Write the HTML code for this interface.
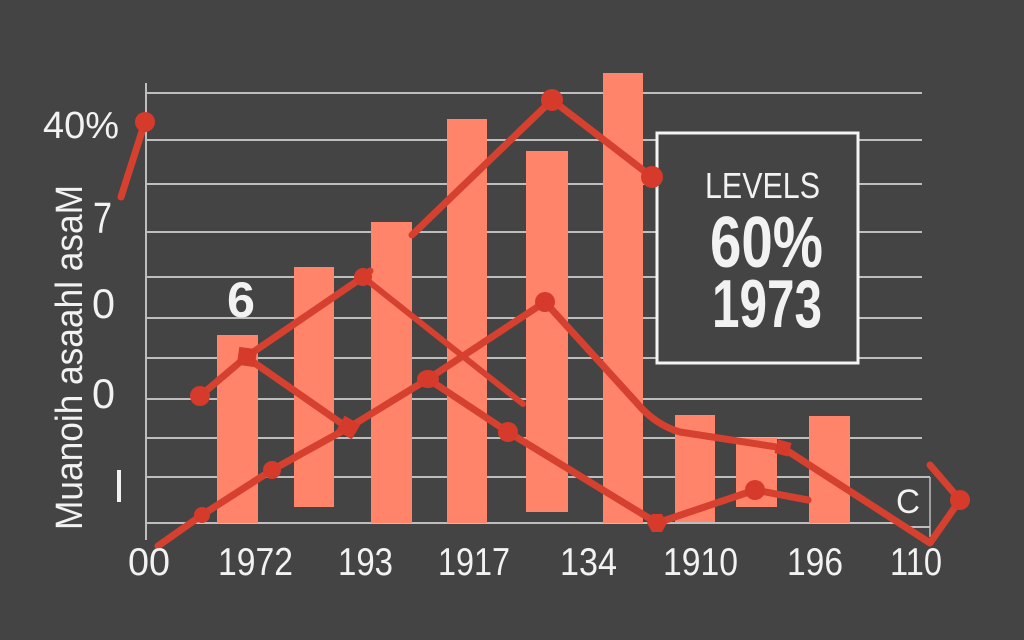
<!DOCTYPE html>
<html>
<head>
<meta charset="utf-8">
<style>
  html,body{margin:0;padding:0;background:#444444;}
  svg{display:block;}
  text{font-family:"Liberation Sans","DejaVu Sans",sans-serif;fill:#F2F2F2;}
</style>
</head>
<body>
<svg width="1024" height="640" viewBox="0 0 1024 640" xmlns="http://www.w3.org/2000/svg">
  <rect width="1024" height="640" fill="#444444"/>

  <!-- gridlines -->
  <g stroke="#BEBEBE" stroke-width="2">
    <line x1="146" y1="93" x2="922" y2="93"/>
    <line x1="146" y1="140" x2="922" y2="140"/>
    <line x1="146" y1="184" x2="922" y2="184"/>
    <line x1="146" y1="232" x2="922" y2="232"/>
    <line x1="146" y1="277" x2="922" y2="277"/>
    <line x1="146" y1="318" x2="922" y2="318"/>
    <line x1="146" y1="358" x2="922" y2="358"/>
    <line x1="146" y1="399" x2="922" y2="399"/>
    <line x1="146" y1="438" x2="922" y2="438"/>
    <line x1="146" y1="477" x2="930" y2="477"/>
    <line x1="146" y1="523" x2="902" y2="523"/>
    <line x1="902" y1="527" x2="930" y2="527"/>
    <line x1="930" y1="477" x2="930" y2="537" stroke-width="1.5"/>
    <line x1="146" y1="83" x2="146" y2="540"/>
  </g>

  <!-- callout box -->
  <rect x="657" y="133" width="201" height="230" fill="#444444" stroke="#F4F4F4" stroke-width="3"/>

  <!-- bars -->
  <g fill="#FF8469">
    <rect x="217" y="335" width="41" height="188"/>
    <rect x="294" y="267" width="40" height="240"/>
    <rect x="371" y="222" width="41" height="301"/>
    <rect x="447" y="119" width="40" height="404"/>
    <rect x="526" y="151" width="42" height="361"/>
    <rect x="603" y="73" width="40" height="450"/>
    <rect x="675" y="415" width="40" height="107"/>
    <rect x="736" y="438" width="41" height="69"/>
    <rect x="809" y="416" width="41" height="107"/>
  </g>

  <!-- lines -->
  <g fill="none" stroke="#D6402F" stroke-width="7" stroke-linejoin="round" stroke-linecap="round">
    <polyline points="121,197 145,122"/>
    <polyline points="200,396 246,357 363,277 370,271"/>
    <polyline points="412,235 552,100 652,177"/>
    <polyline points="246,357 348,428"/>
    <polyline points="158,546 202,515 272,470 348,428 428,379 508,432 657,523 755,490 808,500"/>
    <polyline points="363,277 523,404" stroke-width="6"/>
    <path d="M428,379 L545,302 L636,402 Q655,425 680,432 L783,448 L930,543 L960,500 L930,465"/>
  </g>

  <!-- markers -->
  <g fill="#D63A2A">
    <circle cx="145" cy="122" r="10"/>
    <circle cx="200" cy="396" r="10"/>
    <rect x="238" y="348" width="18" height="18" transform="rotate(8 247 357)"/>
    <circle cx="363" cy="277" r="9"/>
    <circle cx="552" cy="100" r="11"/>
    <circle cx="652" cy="177" r="11"/>
    <circle cx="202" cy="515" r="8"/>
    <circle cx="272" cy="470" r="9"/>
    <rect x="339" y="419" width="18" height="17" transform="rotate(30 348 428)"/>
    <ellipse cx="428" cy="379" rx="11" ry="9"/>
    <circle cx="508" cy="432" r="10"/>
    <circle cx="545" cy="302" r="10"/>
    <polygon points="647,523 652,514 662,514 667,523 662,532 652,532"/>
    <circle cx="755" cy="490" r="10"/>
    <rect x="776" y="441" width="14" height="14" transform="rotate(15 783 448)"/>
    <circle cx="960" cy="500" r="10"/>
  </g>

  <!-- y-axis labels -->
  <text x="43" y="138" font-size="38" textLength="76" lengthAdjust="spacingAndGlyphs">40%</text>
  <text x="93" y="233" font-size="44" textLength="19" lengthAdjust="spacingAndGlyphs">7</text>
  <text x="92" y="318" font-size="42" textLength="23" lengthAdjust="spacingAndGlyphs">0</text>
  <text x="92" y="408" font-size="42" textLength="23" lengthAdjust="spacingAndGlyphs">0</text>
  <rect x="117" y="470" width="4" height="32" fill="#F2F2F2"/>

  <!-- rotated axis title -->
  <text x="0" y="0" font-size="38" textLength="345" lengthAdjust="spacingAndGlyphs" transform="translate(82 530) rotate(-90)">Muanoih asaahl asaM</text>

  <!-- bar annotation -->
  <text x="227" y="317" font-size="50" font-weight="bold" textLength="28" lengthAdjust="spacingAndGlyphs">6</text>

  <!-- x-axis labels -->
  <g font-size="39">
    <text x="128" y="575" textLength="42" lengthAdjust="spacingAndGlyphs">00</text>
    <text x="218" y="575" textLength="75" lengthAdjust="spacingAndGlyphs">1972</text>
    <text x="338" y="575" textLength="55" lengthAdjust="spacingAndGlyphs">193</text>
    <text x="438" y="575" textLength="72" lengthAdjust="spacingAndGlyphs">1917</text>
    <text x="560" y="575" textLength="57" lengthAdjust="spacingAndGlyphs">134</text>
    <text x="663" y="575" textLength="75" lengthAdjust="spacingAndGlyphs">1910</text>
    <text x="787" y="575" textLength="56" lengthAdjust="spacingAndGlyphs">196</text>
    <text x="890" y="575" textLength="52" lengthAdjust="spacingAndGlyphs">110</text>
  </g>

  <!-- small C -->
  <text x="896" y="513" font-size="34" textLength="24" lengthAdjust="spacingAndGlyphs">C</text>

  <!-- box text -->
  <text x="705" y="198" font-size="36" textLength="115" lengthAdjust="spacingAndGlyphs">LEVELS</text>
  <text x="710" y="267" font-size="72" font-weight="bold" textLength="113" lengthAdjust="spacingAndGlyphs">60%</text>
  <text x="712" y="327" font-size="68" font-weight="bold" textLength="110" lengthAdjust="spacingAndGlyphs">1973</text>
</svg>
</body>
</html>
